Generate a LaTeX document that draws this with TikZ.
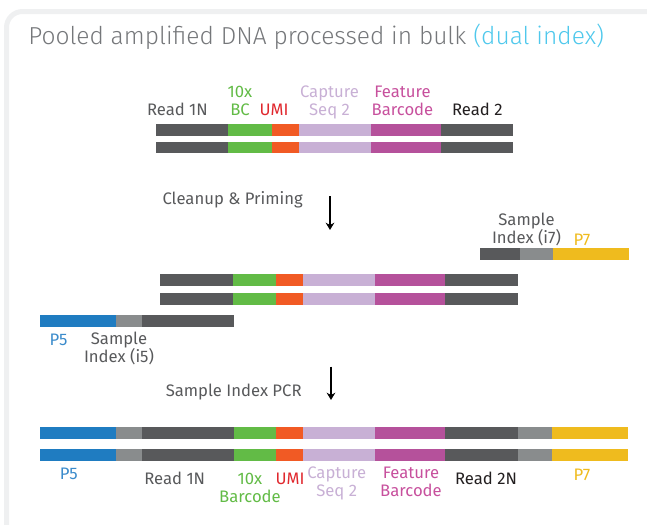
\documentclass[tikz,border=0pt]{standalone}
\usepackage{fontspec}
\setmainfont{Fira Sans}
\newfontfamily\titlefont{Fira Sans}[UprightFont=* Light]
\usetikzlibrary{arrows.meta,positioning}
\definecolor{darkseg}{HTML}{58595B}
\definecolor{idxgray}{HTML}{898C8D}
\definecolor{bcgreen}{HTML}{62BB46}
\definecolor{umiorange}{HTML}{F15A24}
\definecolor{umired}{HTML}{E0282E}
\definecolor{caplilac}{HTML}{C8B0D5}
\definecolor{featmag}{HTML}{B5519B}
\definecolor{feattext}{HTML}{C7509D}
\definecolor{pfiveblue}{HTML}{1F7CC1}
\definecolor{pfivetext}{HTML}{3B8BCB}
\definecolor{psevenyel}{HTML}{EFBB1E}
\definecolor{textgray}{HTML}{58595B}
\definecolor{textblack}{HTML}{231F20}
\definecolor{titlegray}{HTML}{75777A}
\definecolor{dualcyan}{HTML}{4FC8EC}
\definecolor{framegray}{HTML}{EFF0F1}

\begin{document}
\begin{tikzpicture}[x=0.75pt,y=-0.75pt,
    lbl/.style={font=\fontsize{12.5}{13.3}\selectfont, align=center, anchor=base, inner sep=0pt},
    arr/.style={-{Stealth[length=5.5pt,width=6.5pt]}, line width=0.8pt, black}]
  \useasboundingbox (0,0) rectangle (647,525);

  % Frame
  \draw[framegray, line width=3.75pt, rounded corners=12] (6.5,560) |- (700,11.5);

  % Title
  \node[anchor=base west, inner sep=0pt, font=\titlefont\fontsize{18.4}{21}\selectfont, text=titlegray]
    (title) at (28,44) {Pooled amplified DNA processed in bulk \textcolor{dualcyan}{(dual index)}};

  % Top fragment
  \foreach \y in {124,141.7}
    \foreach \a/\b/\c in {156/228/darkseg, 228/272/bcgreen, 272/299/umiorange,
                          299/371/caplilac, 371/441/featmag, 441/513/darkseg}
      \fill[\c] (\a,\y) rectangle (\b,\y+11.5);

  \node[lbl, text=textgray] (rdone) at (177.4,115) {Read 1N};
  \node[lbl, text=bcgreen] (bc) at (240,115) {10x\\BC};
  \node[lbl, text=umired] (umi) at (274,115) {UMI};
  \node[lbl, text=caplilac] (cap) at (329.5,115) {Capture\\Seq 2};
  \node[lbl, text=feattext] (feat) at (402.5,115) {Feature\\Barcode};
  \node[lbl, text=textblack] (rdtwo) at (477.3,115) {Read 2};

  % Cleanup & Priming
  \node[lbl, anchor=base west, text=textgray] (clean) at (162.3,204) {Cleanup \& Priming};
  \coordinate (cleanS) at (330,196);
  \coordinate (cleanE) at (330,230);
  \draw[arr] (cleanS) -- (cleanE);

  % i7 primer
  \foreach \a/\b/\c in {480/520/darkseg, 520/553/idxgray, 553/629/psevenyel}
    \fill[\c] (\a,248.3) rectangle (\b,260);
  \node[lbl, text=textgray] (iseven) at (526.5,243) {Sample\\Index (i7)};
  \node[lbl, text=psevenyel] (pseven) at (582,245.7) {P7};

  % Primed fragment
  \foreach \y in {274,293}
    \foreach \a/\b/\c in {160/233/darkseg, 233/276/bcgreen, 276/303/umiorange,
                          303/375/caplilac, 375/445/featmag, 445/518/darkseg}
      \fill[\c] (\a,\y) rectangle (\b,\y+11.7);

  % i5 primer
  \foreach \a/\b/\c in {40/116/pfiveblue, 116/142/idxgray, 142/234/darkseg}
    \fill[\c] (\a,315) rectangle (\b,326.7);
  \node[lbl, text=pfivetext] (pfive) at (58.5,345) {P5};
  \node[lbl, text=textgray] (ifive) at (119,362) {Sample\\Index (i5)};

  % Sample Index PCR
  \node[lbl, anchor=base west, text=textgray] (pcr) at (165.5,396.7) {Sample Index PCR};
  \coordinate (pcrS) at (331,366.7);
  \coordinate (pcrE) at (331,400);
  \draw[arr] (pcrS) -- (pcrE);

  % Final library
  \foreach \y in {427,449}
    \foreach \a/\b/\c in {40/116/pfiveblue, 116/142/idxgray, 142/234/darkseg, 234/276/bcgreen,
                          276/303/umiorange, 303/375/caplilac, 375/445/featmag,
                          445/518/darkseg, 518/552/idxgray, 552/628/psevenyel}
      \fill[\c] (\a,\y) rectangle (\b,\y+11.7);

  \node[lbl, text=pfivetext] (pfiveb) at (68.8,479) {P5};
  \node[lbl, text=textgray] (rdoneb) at (174.7,484) {Read 1N};
  \node[lbl, text=bcgreen] (bcb) at (250,502) {10x\\Barcode};
  \node[lbl, text=umired] (umib) at (290,484) {UMI};
  \node[lbl, text=caplilac] (capb) at (336.7,496.7) {Capture\\Seq 2};
  \node[lbl, text=feattext] (featb) at (411,496.7) {Feature\\Barcode};
  \node[lbl, text=textblack] (rdtwob) at (486,484) {Read 2N};
  \node[lbl, text=psevenyel] (psevenb) at (582,480.7) {P7};
\end{tikzpicture}
\end{document}
